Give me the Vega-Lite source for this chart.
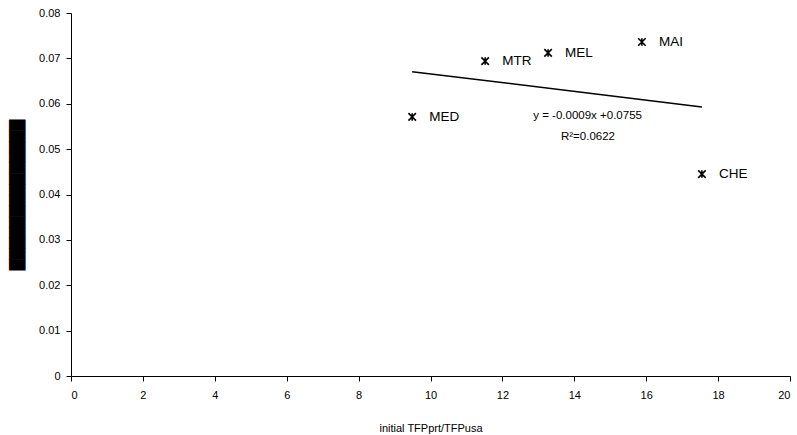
{
  "$schema": "https://vega.github.io/schema/vega-lite/v6.json",
  "width": 719,
  "height": 363,
  "autosize": {"type": "none"},
  "padding": {"left": 71, "top": 13, "right": 7, "bottom": 59},
  "background": "white",
  "config": {
    "view": {"stroke": null},
    "font": "Liberation Sans",
    "axis": {
      "grid": false,
      "domainColor": "black",
      "tickColor": "black",
      "labelColor": "black",
      "titleColor": "black",
      "labelFont": "Liberation Sans",
      "titleFont": "Liberation Sans",
      "labelFontSize": 11,
      "titleFontSize": 11,
      "titleFontWeight": "normal",
      "tickSize": 5,
      "domainWidth": 1,
      "tickWidth": 1
    }
  },
  "data": {
    "values": [
      {"region": "MED", "tfp": 9.49, "growth": 0.0571},
      {"region": "MTR", "tfp": 11.52, "growth": 0.0694},
      {"region": "MEL", "tfp": 13.27, "growth": 0.0712},
      {"region": "MAI", "tfp": 15.88, "growth": 0.0736},
      {"region": "CHE", "tfp": 17.55, "growth": 0.0445}
    ]
  },
  "layer": [
    {
      "mark": {"type": "point", "shape": "M-1,-1L1,1M-1,1L1,-1M0,-1L0,1", "filled": false, "stroke": "black", "strokeWidth": 1.6, "size": 56, "opacity": 1},
      "encoding": {
        "x": {
          "field": "tfp", "type": "quantitative",
          "scale": {"domain": [0, 20], "nice": false, "zero": true},
          "axis": {"values": [0, 2, 4, 6, 8, 10, 12, 14, 16, 18, 20], "title": "initial TFPprt/TFPusa", "titlePadding": 22, "labelPadding": 8}
        },
        "y": {
          "field": "growth", "type": "quantitative",
          "scale": {"domain": [0, 0.08], "nice": false},
          "axis": {
            "values": [0, 0.01, 0.02, 0.03, 0.04, 0.05, 0.06, 0.07, 0.08],
            "labelExpr": "datum.value == 0 ? '0' : format(datum.value, '.2f')",
            "title": "██████████████",
            "titleFont": "DejaVu Sans",
            "titleFontSize": 14,
            "titlePadding": 14,
            "labelPadding": 6
          }
        }
      }
    },
    {
      "mark": {"type": "text", "align": "left", "baseline": "middle", "dx": 17, "fontSize": 13.5, "font": "Liberation Sans", "color": "black"},
      "encoding": {
        "x": {"field": "tfp", "type": "quantitative"},
        "y": {"field": "growth", "type": "quantitative"},
        "text": {"field": "region"}
      }
    },
    {
      "transform": [{"regression": "growth", "on": "tfp"}],
      "mark": {"type": "line", "color": "black", "strokeWidth": 1.5},
      "encoding": {
        "x": {"field": "tfp", "type": "quantitative"},
        "y": {"field": "growth", "type": "quantitative"}
      }
    },
    {
      "data": {"values": [{"label": "y = -0.0009x +0.0755", "lx": 14.37, "ly": 0.0574}, {"label": "R²=0.0622", "lx": 14.38, "ly": 0.0527}]},
      "mark": {"type": "text", "align": "center", "baseline": "middle", "fontSize": 11.5, "font": "Liberation Sans", "color": "black"},
      "encoding": {
        "x": {"field": "lx", "type": "quantitative"},
        "y": {"field": "ly", "type": "quantitative"},
        "text": {"field": "label"}
      }
    }
  ]
}
